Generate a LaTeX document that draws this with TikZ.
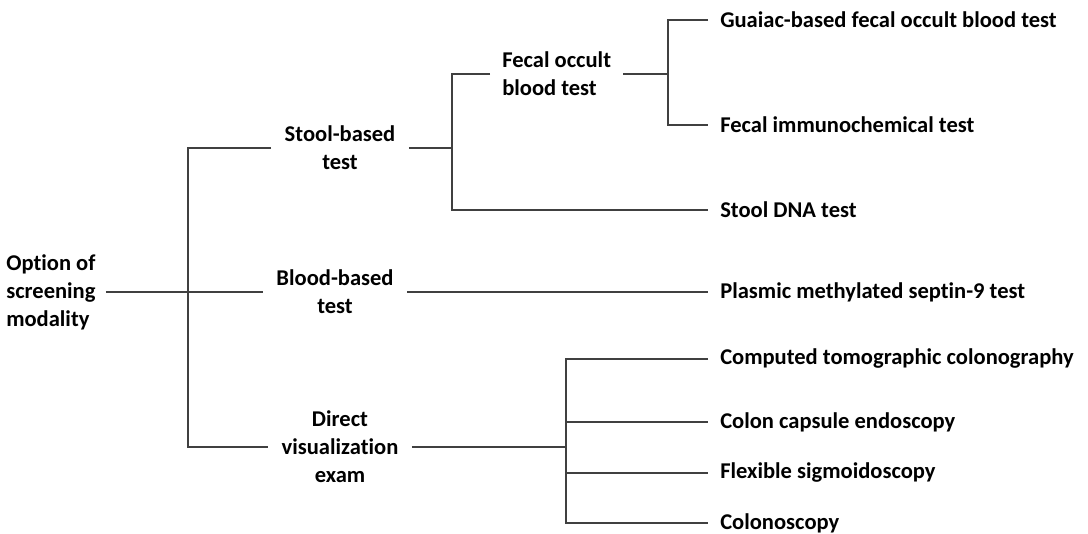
\documentclass[tikz,border=0pt]{standalone}
\usepackage{fontspec}
\setmainfont{Carlito}[Ligatures=NoCommon]
\begin{document}
\begin{tikzpicture}[x=0.75pt,y=-0.75pt,
    every node/.style={font=\fontsize{16.9}{21}\selectfont\bfseries},
    mid/.style={align=center,inner xsep=10pt,inner ysep=0pt},
    leaf/.style={anchor=west,inner xsep=9pt,inner ysep=0pt},
    branch/.style={line width=1.1pt,draw=black!75}]
  \useasboundingbox (0,0) rectangle (1088,534);

  % main categories
  \node[align=left,anchor=west,inner xsep=7.5pt] (root) at (-4,292) {Option of\\screening\\modality};
  \node[mid] (stool) at (340,148) {Stool-based\\test};
  \node[mid] (blood) at (335,292) {Blood-based\\test};
  \node[mid] (direct) at (340,447) {Direct\\visualization\\exam};
  \node[align=left,anchor=west,inner xsep=9pt,inner ysep=0pt] (fobt) at (490,74) {Fecal occult\\blood test};

  % tests
  \node[leaf] (gfobt) at (708,20) {Guaiac-based fecal occult blood test};
  \node[leaf] (fit) at (708,125) {Fecal immunochemical test};
  \node[leaf] (dna) at (708,210) {Stool DNA test};
  \node[leaf] (sept9) at (708,292) {Plasmic methylated septin-9 test};
  \node[leaf] (ctc) at (708,359) {Computed tomographic colonography};
  \node[leaf] (cce) at (708,422) {Colon capsule endoscopy};
  \node[leaf] (fs) at (708,473) {Flexible sigmoidoscopy};
  \node[leaf] (colo) at (708,523) {Colonoscopy};

  % junctions
  \coordinate (j0) at (188,292);
  \coordinate (j1) at (452,148);
  \coordinate (j2) at (668,74);
  \coordinate (j3) at (566,447);

  % draw branches
  \draw[branch] (root.east) -- (blood.west);
  \draw[branch] (stool.west) -| (j0) |- (direct.west);
  \draw[branch] (stool.east) -- (j1);
  \draw[branch] (fobt.west) -| (j1) |- (dna.west);
  \draw[branch] (fobt.east) -- (j2);
  \draw[branch] (gfobt.west) -| (j2) |- (fit.west);
  \draw[branch] (blood.east) -- (sept9.west);
  \draw[branch] (direct.east) -- (j3);
  \draw[branch] (ctc.west) -| (j3) |- (colo.west);
  \draw[branch] (j3 |- cce.west) -- (cce.west);
  \draw[branch] (j3 |- fs.west) -- (fs.west);
\end{tikzpicture}
\end{document}
